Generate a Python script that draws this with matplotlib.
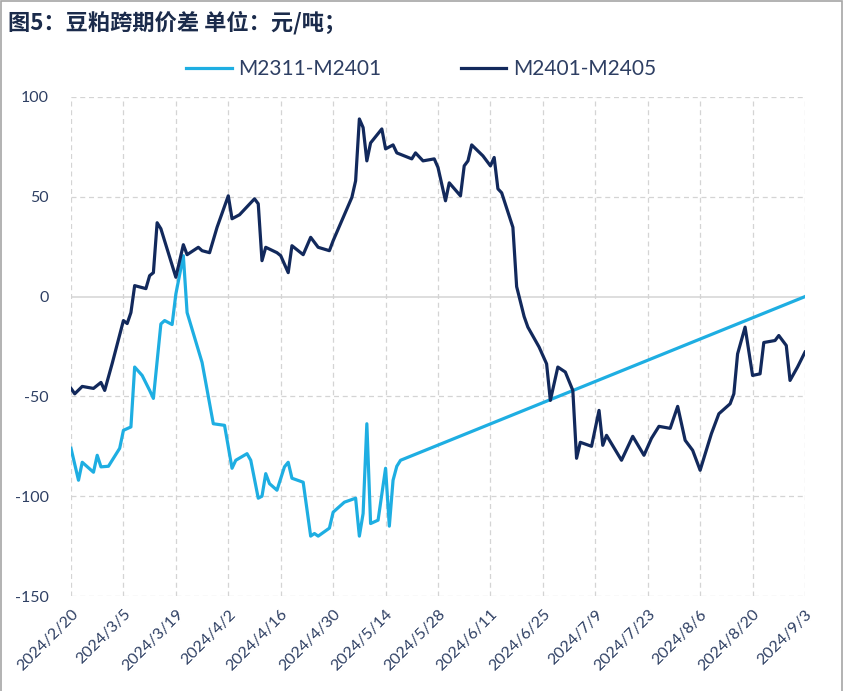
"""
plot.py
=======
Soybean meal calendar spreads (M2311-M2401 vs M2401-M2405), 2024/2/20 - 2024/9/3.
"""

import matplotlib
matplotlib.use("Agg")
import matplotlib.pyplot as plt
import matplotlib.dates as mdates
import pandas as pd
from matplotlib.lines import Line2D

# ---------------------------------------------------------------------------
# data (元/吨)
TITLE = "图5：豆粕跨期价差 单位：元/吨；"
NAME_A = "M2311-M2401"
NAME_B = "M2401-M2405"

DATES_A = ["2024-02-20", "2024-02-22", "2024-02-23", "2024-02-26", "2024-02-27",
           "2024-02-28", "2024-03-01", "2024-03-04", "2024-03-05", "2024-03-07",
           "2024-03-08", "2024-03-10", "2024-03-12", "2024-03-13", "2024-03-15",
           "2024-03-16", "2024-03-18", "2024-03-19", "2024-03-21", "2024-03-22",
           "2024-03-26", "2024-03-29", "2024-04-01", "2024-04-03", "2024-04-04",
           "2024-04-07", "2024-04-08", "2024-04-10", "2024-04-11", "2024-04-12",
           "2024-04-13", "2024-04-15", "2024-04-17", "2024-04-18", "2024-04-19",
           "2024-04-22", "2024-04-24", "2024-04-25", "2024-04-26", "2024-04-29",
           "2024-04-30", "2024-05-03", "2024-05-06", "2024-05-07", "2024-05-08",
           "2024-05-09", "2024-05-10", "2024-05-12", "2024-05-14", "2024-05-15",
           "2024-05-16", "2024-05-17", "2024-05-18", "2024-09-03"]
VALUES_A = [-76, -92, -83, -88, -79.5,
            -85.3, -85, -76, -67, -65.3,
            -35.3, -39.5, -47, -51, -13.7,
            -12, -14, 1.3, 20.5, -8,
            -33, -63.7, -64.5, -86, -82,
            -78.7, -82, -101, -100, -88.7,
            -93.7, -97, -85.3, -83, -91,
            -93, -120, -118.7, -120, -116,
            -108, -103, -101, -120, -108.7,
            -63.7, -113.7, -112, -86, -115,
            -92, -85, -82, 0]

DATES_B = ["2024-02-20", "2024-02-21", "2024-02-23", "2024-02-26", "2024-02-28",
           "2024-02-29", "2024-03-02", "2024-03-05", "2024-03-06", "2024-03-07",
           "2024-03-08", "2024-03-11", "2024-03-12", "2024-03-13", "2024-03-14",
           "2024-03-15", "2024-03-19", "2024-03-21", "2024-03-22", "2024-03-25",
           "2024-03-26", "2024-03-28", "2024-03-30", "2024-04-02", "2024-04-03",
           "2024-04-05", "2024-04-09", "2024-04-10", "2024-04-11", "2024-04-12",
           "2024-04-15", "2024-04-16", "2024-04-18", "2024-04-19", "2024-04-22",
           "2024-04-24", "2024-04-26", "2024-04-29", "2024-04-30", "2024-05-05",
           "2024-05-06", "2024-05-07", "2024-05-08", "2024-05-09", "2024-05-10",
           "2024-05-13", "2024-05-14", "2024-05-16", "2024-05-17", "2024-05-21",
           "2024-05-22", "2024-05-24", "2024-05-27", "2024-05-28", "2024-05-30",
           "2024-05-31", "2024-06-03", "2024-06-04", "2024-06-05", "2024-06-06",
           "2024-06-09", "2024-06-11", "2024-06-12", "2024-06-13", "2024-06-14",
           "2024-06-17", "2024-06-18", "2024-06-20", "2024-06-21", "2024-06-24",
           "2024-06-26", "2024-06-27", "2024-06-29", "2024-07-01", "2024-07-03",
           "2024-07-04", "2024-07-05", "2024-07-08", "2024-07-10", "2024-07-11",
           "2024-07-12", "2024-07-16", "2024-07-19", "2024-07-22", "2024-07-24",
           "2024-07-26", "2024-07-29", "2024-07-31", "2024-08-02", "2024-08-04",
           "2024-08-06", "2024-08-09", "2024-08-11", "2024-08-14", "2024-08-15",
           "2024-08-16", "2024-08-18", "2024-08-20", "2024-08-22", "2024-08-23",
           "2024-08-26", "2024-08-27", "2024-08-29", "2024-08-30", "2024-09-01",
           "2024-09-03"]
VALUES_B = [-46, -48.7, -45, -46, -43,
            -47, -33.5, -12, -13.5, -8,
            5.5, 4, 10.5, 12, 37,
            34, 9.7, 26, 21, 24.7,
            23, 22, 34.7, 50.5, 39,
            41, 49, 46.5, 18, 24.7,
            22, 20.5, 12, 25.5, 21,
            29.7, 24.7, 23, 28, 49.7,
            58, 89, 84.7, 68, 77,
            84, 74, 76, 72, 69,
            72, 68, 69, 64.7, 48,
            57, 50.5, 65.5, 68, 76,
            70.5, 65.5, 69.7, 54, 52,
            34.7, 5, -10, -15.3, -25.3,
            -33.7, -52, -35.3, -37.8, -47,
            -81, -73, -75, -57, -74.5,
            -69.5, -82, -70, -79.5, -71,
            -65, -66, -55, -72, -77,
            -87, -68.7, -58.7, -53.7, -48.7,
            -28.7, -15.3, -39.5, -38.7, -23,
            -22, -19.5, -24.5, -42, -35.3,
            -27.8]

TICK_DATES = ["2024-02-20", "2024-03-05", "2024-03-19", "2024-04-02", "2024-04-16",
              "2024-04-30", "2024-05-14", "2024-05-28", "2024-06-11", "2024-06-25",
              "2024-07-09", "2024-07-23", "2024-08-06", "2024-08-20", "2024-09-03"]
Y_TICKS = [-150, -100, -50, 0, 50, 100]

# ---------------------------------------------------------------------------
LIGHT = "#1EAEE2"
NAVY = "#12295C"
TEXT = "#2E3F63"
GRID = "#D4D4D4"

plt.rcParams["font.family"] = ["Lato", "Noto Sans CJK SC", "DejaVu Sans"]

fig = plt.figure(figsize=(8.46, 6.91), dpi=100)
ax = fig.add_axes([71 / 846, 1 - 596 / 691, 734 / 846, 499 / 691])

da = pd.to_datetime(DATES_A)
db = pd.to_datetime(DATES_B)
ticks = pd.to_datetime(TICK_DATES)

ax.plot(da, VALUES_A, color=LIGHT, lw=2.3, solid_joinstyle="round", zorder=3)
ax.plot(db, VALUES_B, color=NAVY, lw=2.3, solid_joinstyle="round", zorder=4)

ax.set_xlim(ticks[0], ticks[-1])
ax.set_ylim(Y_TICKS[0], Y_TICKS[-1])

# grid: dashed everywhere, solid zero line
for t in ticks:
    ax.axvline(t, color=GRID, lw=0.9, ls=(0, (4, 3)), zorder=1)
for y in Y_TICKS:
    if y == 0:
        ax.axhline(y, color=GRID, lw=1.1, zorder=1)
    else:
        ax.axhline(y, color=GRID, lw=0.9, ls=(0, (4, 3)), zorder=1)

for s in ax.spines.values():
    s.set_visible(False)

ax.set_yticks(Y_TICKS)
ax.set_yticklabels([str(v) for v in Y_TICKS])
ax.set_xticks(ticks)
ax.set_xticklabels([f"{d.year}/{d.month}/{d.day}" for d in ticks],
                   rotation=45, ha="right", va="top", rotation_mode="anchor")
ax.tick_params(axis="both", length=0, colors=TEXT, labelsize=11.5)
ax.tick_params(axis="y", pad=16)
ax.tick_params(axis="x", pad=8)

# legend across the top
handles = [Line2D([], [], color=LIGHT, lw=2.3), Line2D([], [], color=NAVY, lw=2.3)]
fig.legend(handles, [NAME_A, NAME_B], loc="center", ncol=2,
           bbox_to_anchor=(421 / 846, 1 - 69 / 691), frameon=False,
           fontsize=15, labelcolor=TEXT, handlelength=2.2, handletextpad=0.3,
           columnspacing=3.8)

fig.text(8 / 846, 1 - 23 / 691, TITLE, ha="left", va="center",
         fontsize=16, fontweight="bold", color="#1B2B4B",
         family=["Noto Sans CJK SC", "DejaVu Sans"])

# light grey frame round the chart
fig.add_artist(plt.Rectangle((0.001, -0.01), 0.994, 1.008, transform=fig.transFigure,
                             fill=False, edgecolor="#A6A6A6", lw=1.2))

fig.savefig("out.png", dpi=100)
